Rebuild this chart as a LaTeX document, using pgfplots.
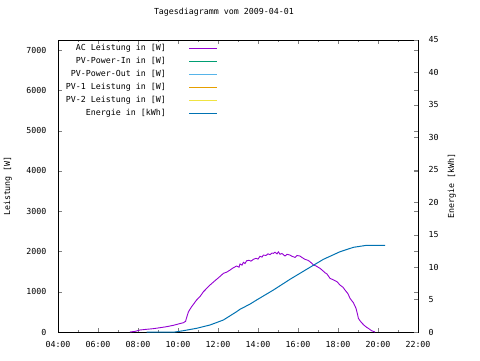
\documentclass[border=0pt]{standalone}
\usepackage{pgfplots}
\pgfplotsset{compat=1.18}
\usepackage{fontspec}
\setmainfont{DejaVu Sans Mono}
\definecolor{cAC}{HTML}{9400D3}
\definecolor{cIn}{HTML}{009E73}
\definecolor{cOut}{HTML}{56B4E9}
\definecolor{cPVa}{HTML}{E69F00}
\definecolor{cPVb}{HTML}{F0E442}
\definecolor{cE}{HTML}{0072B2}
\newcommand{\fs}{\fontsize{8.3}{9}\selectfont}
\pgfplotstableread{
t P
7.60 0
7.85 15
8.10 50
8.43 67
8.77 83
9.10 107
9.43 132
9.77 166
10.02 199
10.27 231
10.38 265
10.42 340
10.52 500
10.68 628
10.93 794
11.10 880
11.27 1000
11.45 1090
11.60 1166
11.77 1240
11.93 1308
12.10 1380
12.27 1456
12.45 1490
12.60 1538
12.75 1590
12.93 1638
13.05 1610
13.10 1690
13.20 1660
13.27 1730
13.35 1700
13.43 1769
13.55 1780
13.65 1760
13.77 1804
13.90 1830
14.00 1810
14.10 1880
14.20 1860
14.27 1910
14.40 1900
14.50 1940
14.60 1920
14.70 1960
14.77 1953
14.85 1980
14.95 1940
15.02 1990
15.10 1930
15.20 1950
15.35 1886
15.45 1930
15.60 1910
15.70 1880
15.85 1853
15.95 1900
16.10 1886
16.20 1850
16.35 1804
16.50 1780
16.60 1745
16.70 1700
16.77 1663
16.90 1640
17.10 1580
17.20 1540
17.35 1472
17.45 1440
17.60 1332
17.70 1310
17.85 1273
17.95 1250
18.10 1166
18.25 1110
18.35 1042
18.50 950
18.60 836
18.77 727
18.90 588
18.97 450
19.02 340
19.10 280
19.18 231
19.30 170
19.43 117
19.55 80
19.68 32
19.85 0
}\tabAC
\pgfplotstableread{
t E
8.43 0
9.85 0
10.27 0.2
10.93 0.57
11.60 1.08
12.27 1.85
12.93 3.13
13.10 3.5
13.60 4.3
13.93 4.93
14.77 6.47
15.60 8.12
16.43 9.66
17.27 11.2
18.10 12.37
18.77 13.05
19.43 13.36
20.35 13.36
}\tabE
\begin{document}
\begin{tikzpicture}
\path[use as bounding box, fill=white] (0pt,0pt) rectangle (480pt,360pt);
\begin{axis}[
  at={(58pt,28pt)}, anchor=south west,
  scale only axis, width=360pt, height=292pt,
  xmin=4, xmax=22, ymin=0, ymax=7250,
  xtick={4,6,...,22},
  xticklabels={04:00,06:00,08:00,10:00,12:00,14:00,16:00,18:00,20:00,22:00},
  minor xtick={5,7,...,21},
  ytick={0,1000,...,7000},
  scaled y ticks=false,
  /pgf/number format/1000 sep={},
  /pgf/number format/assume math mode=true,
  tick align=inside,
  major tick length=4pt, minor tick length=2pt,
  tick label style={font=\fs},
  xticklabel style={yshift=-6pt},
  yticklabel style={xshift=-8pt},
  ylabel={Leistung [W]},
  ylabel style={at={(axis description cs:-0.139,0.5)}, anchor=center, font=\fs},
  title={Tagesdiagramm vom 2009-04-01},
  title style={at={(axis description cs:0.461,1.075)}, anchor=center, font=\fs},
  legend style={draw=none, fill=none, at={(axis description cs:0.444,0.983)},
    anchor=north east, inner sep=0pt, outer sep=0pt, font=\fs,
    row sep=6pt, column sep=23pt,
    nodes={inner sep=0pt, text height=6pt, text depth=1pt}},
  legend plot pos=right, legend cell align=right,
  legend image code/.code={\draw[#1] (0pt,0pt) -- (28pt,0pt);},
]
\addlegendimage{draw=cAC, line width=1pt}
\addlegendentry{AC Leistung in [W]}
\addlegendimage{draw=cIn, line width=1pt}
\addlegendentry{PV-Power-In in [W]}
\addlegendimage{draw=cOut, line width=1pt}
\addlegendentry{PV-Power-Out in [W]}
\addlegendimage{draw=cPVa, line width=1pt}
\addlegendentry{PV-1 Leistung in [W]}
\addlegendimage{draw=cPVb, line width=1pt}
\addlegendentry{PV-2 Leistung in [W]}
\addlegendimage{draw=cE, line width=1pt}
\addlegendentry{Energie in [kWh]}
\addplot[color=cAC, line width=0.9pt, forget plot] table[x=t,y=P] {\tabAC};
\end{axis}
\begin{axis}[
  at={(58pt,28pt)}, anchor=south west,
  scale only axis, width=360pt, height=292pt,
  xmin=4, xmax=22, ymin=0, ymax=45,
  axis x line=none, axis y line*=right,
  ytick={0,5,...,45},
  /pgf/number format/assume math mode=true,
  tick align=inside,
  major tick length=4pt,
  tick label style={font=\fs},
  yticklabel style={xshift=7pt},
  ylabel={Energie [kWh]},
  ylabel style={at={(axis description cs:1.094,0.5)}, anchor=center, rotate=0, font=\fs},
]
\addplot[color=cE, line width=1pt] table[x=t,y=E] {\tabE};
\end{axis}
\end{tikzpicture}
\end{document}
